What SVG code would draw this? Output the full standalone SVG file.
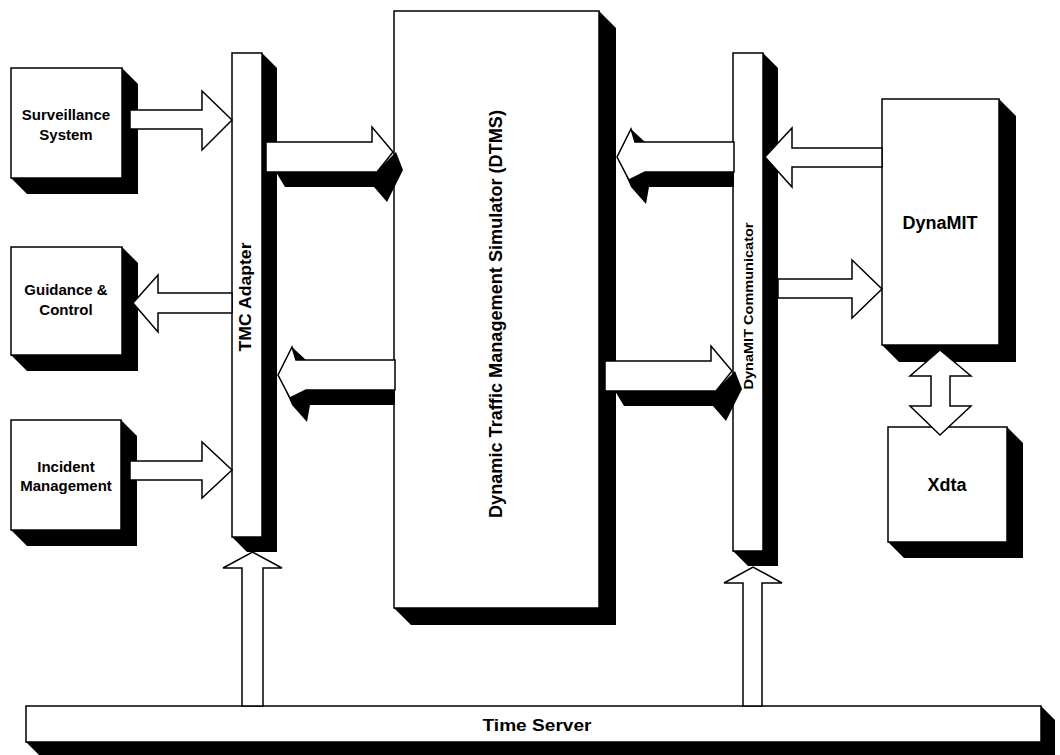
<svg xmlns="http://www.w3.org/2000/svg" xmlns:xlink="http://www.w3.org/1999/xlink" width="1060" height="755" viewBox="0 0 1060 755">
<style>
.box{fill:#fff;stroke:#000;stroke-width:1.5}
.sh{fill:#000}
.ar{fill:#fff;stroke:#000;stroke-width:1.5;stroke-linejoin:miter}
.blk{fill:#000}
.t{font-family:"Liberation Sans",Arial,sans-serif;font-weight:bold;fill:#000;text-anchor:middle}
</style>
<defs>
<g id="a3dR">
<polygon class="blk" points="276,172 376,172 390,158 396,152 403,170 387,202 374,187 285,187"/>
<polygon class="ar" points="266,142 372,142 372,127 393,152 377,172 266,172"/>
</g>
<g id="a3dL">
<polygon class="blk" points="306,390 395,390 395,405 310,405 307,422 292,405 281,380"/>
<polygon class="ar" points="395,360 296,360 292,347 278,375 290,398 306,390 395,390"/>
<polygon class="blk" points="292,347 306,360 296,360"/>
</g>
</defs>
<rect width="1060" height="755" fill="#fff"/>
<g id="surveillance">
<polygon class="sh" points="122,68 138,84 138,194 27,194 11,178"/>
<rect class="box" x="11" y="68" width="111" height="110"/>
<text class="t" x="66" y="120" font-size="15">Surveillance</text>
<text class="t" x="66" y="140" font-size="15">System</text>
</g>
<g id="guidance">
<polygon class="sh" points="122,247 138,263 138,371 27,371 11,355"/>
<rect class="box" x="11" y="247" width="111" height="108"/>
<text class="t" x="66" y="295" font-size="15">Guidance &amp;</text>
<text class="t" x="66" y="315" font-size="15">Control</text>
</g>
<g id="incident">
<polygon class="sh" points="121,420 137,436 137,546 27,546 11,530"/>
<rect class="box" x="11" y="420" width="110" height="110"/>
<text class="t" x="66" y="472" font-size="15">Incident</text>
<text class="t" x="66" y="491" font-size="15">Management</text>
</g>
<g id="tmc">
<polygon class="sh" points="262,53 277,68 277,552 247,552 232,537"/>
<rect class="box" x="232" y="53" width="30" height="484"/>
<text class="t" transform="translate(251,297) rotate(-90)" font-size="16" textLength="109" lengthAdjust="spacingAndGlyphs">TMC Adapter</text>
</g>
<g id="dtms">
<polygon class="sh" points="599,11 616,28 616,625 411,625 394,608"/>
<rect class="box" x="394" y="11" width="205" height="597"/>
<text class="t" transform="translate(502,314) rotate(-90)" font-size="18" textLength="408" lengthAdjust="spacingAndGlyphs">Dynamic Traffic Management Simulator (DTMS)</text>
</g>
<g id="communicator">
<polygon class="sh" points="763,53 778,68 778,566 748,566 733,551"/>
<rect class="box" x="733" y="53" width="30" height="498"/>
<text class="t" transform="translate(753,306) rotate(-90)" font-size="13" textLength="167" lengthAdjust="spacingAndGlyphs">DynaMIT Communicator</text>
</g>
<g id="dynamit">
<polygon class="sh" points="999,99 1016,116 1016,362 899,362 882,345"/>
<rect class="box" x="882" y="99" width="117" height="246"/>
<text class="t" x="940" y="229" font-size="18">DynaMIT</text>
</g>
<g id="xdta">
<polygon class="sh" points="1007,427 1023,443 1023,558 904,558 888,542"/>
<rect class="box" x="888" y="427" width="119" height="115"/>
<text class="t" x="947" y="491" font-size="18">Xdta</text>
</g>
<g id="timeserver">
<polygon class="sh" points="1041,706 1055,720 1055,756 40,756 26,742"/>
<rect class="box" x="26" y="706" width="1015" height="36"/>
<text class="t" x="537" y="731" font-size="17" textLength="109" lengthAdjust="spacingAndGlyphs">Time Server</text>
</g>
<g id="connectors">
<path class="ar" d="M130,110 H202 V91 L232,120 L202,150 V129 H130 Z"/>
<path class="ar" d="M232,293 H158 V275 L133,303 L158,332 V313 H232 Z"/>
<path class="ar" d="M130,461 H202 V442 L232,470 L202,498 V480 H130 Z"/>
<use xlink:href="#a3dR"/>
<use xlink:href="#a3dL"/>
<use xlink:href="#a3dL" transform="translate(339,-218)"/>
<use xlink:href="#a3dR" transform="translate(339,219)"/>
<path class="ar" d="M882,148 H792 V128 L765,157 L792,187 V167 H882 Z"/>
<path class="ar" d="M778,279 H852 V260 L882,289 L852,318 V298 H778 Z"/>
<path class="ar" d="M931,376 H910 L940,350 L971,376 H950 V406 H971 L940,435 L910,406 H931 Z"/>
<path class="ar" d="M242,706 V568 H223 L252.5,552 L282,568 H263 V706 Z"/>
<path class="ar" d="M743,706 V583 H724 L753,567 L782,583 H762 V706 Z"/>
</g>
</svg>
